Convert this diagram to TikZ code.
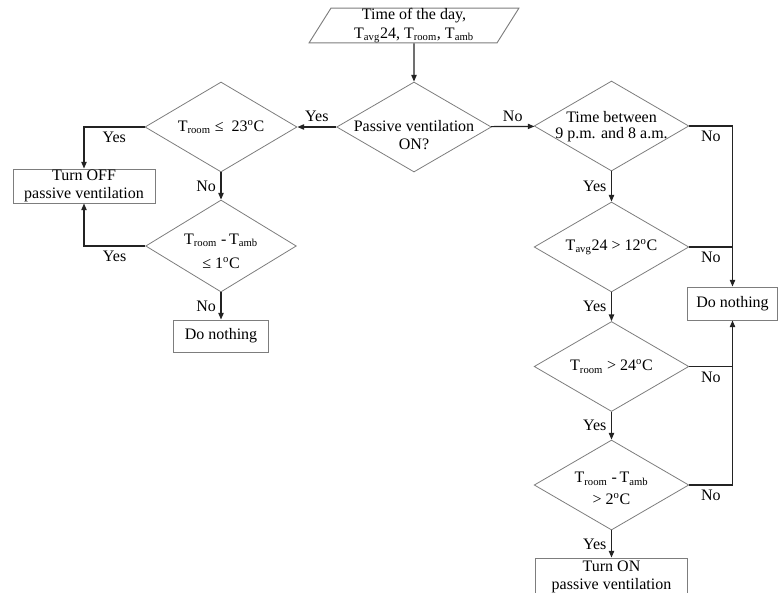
\documentclass[tikz,border=0pt]{standalone}
\usepackage{fontspec}
\setmainfont{Liberation Serif}
\usetikzlibrary{shapes.geometric,arrows.meta}
\definecolor{edgegray}{RGB}{125,125,125}
\definecolor{flowline}{RGB}{35,35,35}
\newcommand{\degc}{\textsuperscript{o}C}
\newcommand{\Troom}{T\textsubscript{room}}
\newcommand{\Tamb}{T\textsubscript{amb}}
\newcommand{\Tavg}{T\textsubscript{avg}}
\begin{document}
\begin{tikzpicture}[x=0.75pt,y=-0.75pt,
    every node/.style={font=\fontsize{12}{13}\selectfont},
    dec/.style={draw=edgegray, line width=0.6pt, diamond, minimum width=116pt, minimum height=67.5pt, inner sep=0pt},
    dtext/.style={align=center, inner sep=0pt},
    act/.style={draw=edgegray, line width=0.7pt, rectangle, align=center, inner sep=0pt},
    io/.style={draw=edgegray, line width=0.7pt, trapezium, trapezium left angle=65.6, trapezium right angle=114.4, trapezium stretches=true, minimum width=157.5pt, minimum height=24.75pt, align=center, inner sep=0pt},
    flow/.style={draw=flowline, line width=0.9pt, -{Triangle[length=5pt,width=4pt]}},
    merge/.style={draw=flowline, line width=0.9pt}]
      \useasboundingbox (0,0) rectangle (779,593);

      % INPUT
      \node[io] (inp) at (414,25.5) {Time of the day,\\[1pt] \Tavg24, \Troom, \Tamb};
      \node[dec, label={[dtext,yshift=-6pt]center:{Passive ventilation\\ON?}}] (pv) at (414,127) {};

      % LEFT BRANCH
      \node[dec, minimum width=114pt, label={[dtext]center:{\Troom\ ≤~ 23\degc}}] (lt1) at (221,127) {};
      \node[dec, minimum width=113pt, minimum height=69pt,
            label={[dtext,yshift=-3.75pt]center:{\Troom\ -\,\Tamb\\[5pt] ≤ 1\degc}}] (lt2) at (221,246) {};
      \node[act, minimum width=106.5pt, minimum height=25.5pt] (off) at (84,186) {Turn OFF\\passive ventilation};
      \node[act, minimum width=71pt, minimum height=24pt] (dn1) at (221,336) {Do nothing};

      % RIGHT BRANCH
      \node[dec, label={[dtext,yshift=-0.75pt]center:{Time between\\[-1pt] 9 p.m. and 8 a.m.}}] (rt1) at (611.5,126) {};
      \node[dec, label={[dtext]center:{\Tavg24 > 12\degc}}] (rt2) at (611.5,247) {};
      \node[dec, label={[dtext]center:{\Troom\ > 24\degc}}] (rt3) at (611.5,366.5) {};
      \node[dec, label={[dtext,yshift=-2.6pt]center:{\Troom\ -\,\Tamb\\[3pt] > 2\degc}}] (rt4) at (611.5,485) {};
      \node[act, minimum width=68pt, minimum height=24.75pt] (dn2) at (732.5,303.5) {Do nothing};
      \node[act, minimum width=114pt, minimum height=28.5pt] (on) at (611.5,577) {Turn ON\\passive ventilation};

      % CONNECTORS
      \draw[flow] (inp) -- (pv);
      \draw[flow] (pv) -- node[above]{Yes} (lt1);
      \draw[flow] (pv) -- node[above]{No} (rt1);
      \draw[flow] (lt1.west) -| node[pos=0.25,below]{Yes} (off.north);
      \draw[flow] (lt1) -- node[left]{No} (lt2);
      \draw[flow] (lt2.west) -| node[pos=0.25,below]{Yes} (off.south);
      \draw[flow] (lt2) -- node[left]{No} (dn1);
      \draw[flow] (rt1.east) -| node[pos=0.25,below]{No} (dn2.north);
      \draw[flow] (rt1) -- node[left]{Yes} (rt2);
      \draw[merge] (rt2.east) -- node[below]{No} (rt2.east -| dn2.north);
      \draw[flow] (rt2) -- node[left]{Yes} (rt3);
      \draw[merge] (rt3.east) -- node[below]{No} (rt3.east -| dn2.south);
      \draw[flow] (rt3) -- node[left]{Yes} (rt4);
      \draw[flow] (rt4.east) -| node[pos=0.25,below]{No} (dn2.south);
      \draw[flow] (rt4) -- node[left]{Yes} (on);
\end{tikzpicture}
\end{document}
